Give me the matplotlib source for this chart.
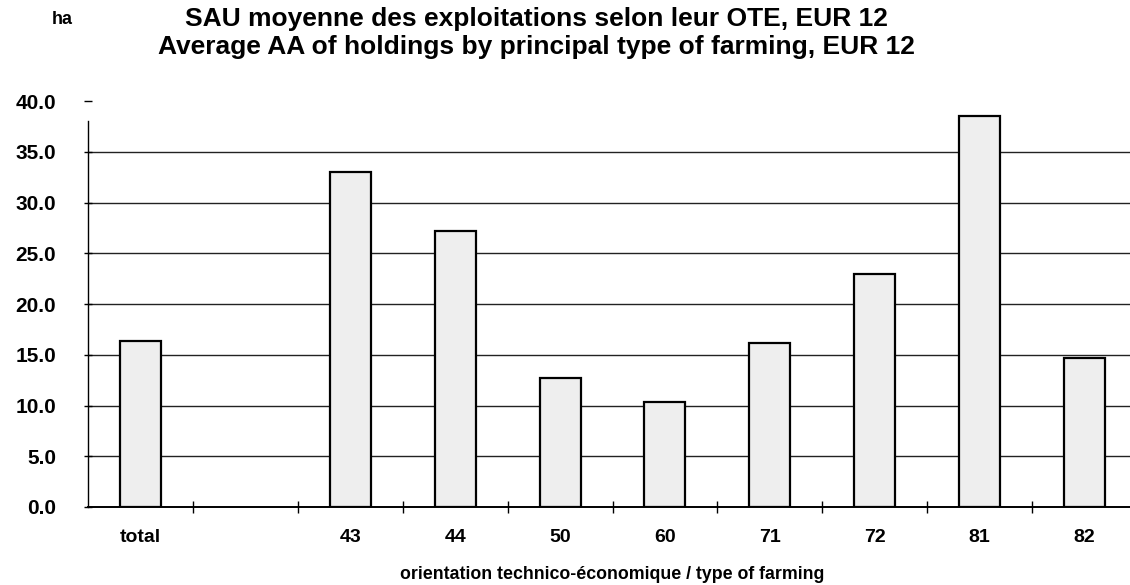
import matplotlib
matplotlib.use('Agg')
import matplotlib.pyplot as plt
import numpy as np

plt.rcParams['font.family'] = ['Liberation Sans', 'DejaVu Sans']
plt.rcParams['font.weight'] = 'bold'

categories = ['total', '', '43', '44', '50', '60', '71', '72', '81', '82']
values = [16.35, None, 33.0, 27.2, 12.7, 10.3, 16.2, 23.0, 38.5, 14.7]
yticks = [0, 5, 10, 15, 20, 25, 30, 35, 40]

def main():
    fig = plt.figure(figsize=(11.3, 5.85), dpi=100)
    ax = fig.add_axes([88 / 1130, 78 / 585, (1137 - 88) / 1130, 406 / 585])

    x = np.arange(len(categories))
    heights = [v if v is not None else 0 for v in values]
    bars = ax.bar(x, heights, width=0.39, color='#eeeeee', edgecolor='black',
                  linewidth=1.6, zorder=3)
    for b, v in zip(bars, values):
        if v is None:
            b.set_visible(False)

    ax.set_xlim(-0.5, len(categories) - 0.5)
    ax.set_ylim(0, 40)
    ax.set_yticks(yticks)
    ax.set_yticklabels(['%.1f' % t for t in yticks], fontsize=15, fontweight='bold')
    for t in yticks[1:-1]:
        ax.axhline(t, color='#222222', linewidth=1.0, zorder=1)

    ax.set_xticks(x)
    ax.set_xticklabels(categories, fontsize=14, fontweight='bold')
    ax.set_xticks(np.arange(0.5, len(categories) - 1, 1.0), minor=True)
    ax.tick_params(axis='x', which='major', length=0, pad=16)
    ax.tick_params(axis='x', which='minor', direction='inout', length=8, width=1)
    ax.tick_params(axis='y', direction='inout', length=6, width=1, pad=20)

    for s in ['top', 'right']:
        ax.spines[s].set_visible(False)
    ax.spines['left'].set_bounds(0, 38)
    ax.spines['left'].set_linewidth(1.0)
    ax.spines['bottom'].set_linewidth(1.4)

    ax.set_xlabel('orientation technico-économique / type of farming',
                  fontsize=12.8, fontweight='bold', labelpad=14)

    fig.text(536 / 1130, 1 - 19 / 585, 'SAU moyenne des exploitations selon leur OTE, EUR 12',
             ha='center', va='center', fontsize=19, fontweight='bold')
    fig.text(536 / 1130, 1 - 47 / 585, 'Average AA of holdings by principal type of farming, EUR 12',
             ha='center', va='center', fontsize=19, fontweight='bold')
    fig.text(62 / 1130, 1 - 19 / 585, 'ha', ha='center', va='center',
             fontsize=13, fontweight='bold')

    fig.savefig('out.png', dpi=100)

if __name__ == '__main__':
    main()
